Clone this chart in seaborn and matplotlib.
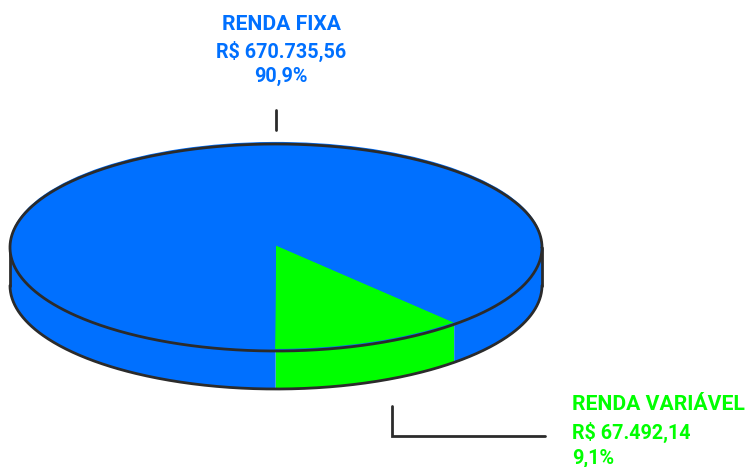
import numpy as np
import matplotlib
matplotlib.use("Agg")
import matplotlib.pyplot as plt
import seaborn as sns

categories = ["RENDA VARIÁVEL", "RENDA FIXA"]
amounts = ["R$ 67.492,14", "R$ 670.735,56"]
percents = ["9,1%", "90,9%"]
# Slice shares as drawn in the picture (the perspective widens the small slice)
drawn_shares = [11.7, 88.3]
palette = sns.color_palette(["#00FF00", "#0070FF"])
EDGE = "#2b2b2b"

W, H = 745, 467
CX, CY, RX, RY, DEPTH = 276, 247.5, 266, 103.5, 38

sns.set_theme(style="white")
plt.rcParams["font.family"] = ["Roboto", "DejaVu Sans"]

fig = plt.figure(figsize=(W / 100, H / 100), dpi=100)
ax = fig.add_axes([0, 0, 1, 1])


def fit_limits():
    ax.set_aspect("auto")
    ax.set_xlim(-CX / RX, (W - CX) / RX)
    ax.set_ylim(-(H - CY) / RY, CY / RY)
    ax.axis("off")


d = DEPTH / RY
start = -90.2
fractions = np.array(drawn_shares) / sum(drawn_shares)
edges = start + np.concatenate([[0], np.cumsum(fractions) * 360])

# Side wall of the disc: every slice, clipped to the front half
for i, color in enumerate(palette):
    a0, a1 = edges[i], edges[i + 1]
    for lo, hi in [(a0, min(a1, 0)), (max(a0, 180), a1)]:
        if hi > lo:
            t = np.radians(np.linspace(lo, hi, 200))
            ax.fill_between(np.cos(t), np.sin(t), np.sin(t) - d,
                            color=color, lw=0, zorder=1)

# Outline of the wall
t = np.radians(np.linspace(180, 360, 400))
ax.plot(np.cos(t), np.sin(t) - d, color=EDGE, lw=2, zorder=2)
ax.plot([-1, -1], [0, -d], color=EDGE, lw=2, zorder=2)
ax.plot([1, 1], [0, -d], color=EDGE, lw=2, zorder=2)

# Top face: blue underlay, then the slices with the apex slightly raised,
# clipped to the disc so nothing leaks past the outline
t = np.radians(np.linspace(0, 360, 720))
underlay = ax.fill(np.cos(t), np.sin(t), color=palette[1], lw=0, zorder=2.5)[0]
wedges, _ = ax.pie(drawn_shares, colors=palette, startangle=start,
                   counterclock=True, wedgeprops=dict(linewidth=0, zorder=3),
                   center=(0, 0.02), radius=1, normalize=True)
ax.plot(np.cos(t), np.sin(t), color=EDGE, lw=2, zorder=4)
fit_limits()
for wedge in wedges:
    wedge.set_clip_path(underlay)


def px(x, y):
    return x / W, 1 - y / H


# Leader lines
for xs, ys in [([276, 276], [110, 130]), ([392, 392, 545], [406, 436, 436])]:
    fig.add_artist(plt.Line2D([x / W for x in xs], [1 - y / H for y in ys],
                              color=EDGE, lw=2, solid_joinstyle="miter"))

sizes = [15.2, 14.2, 14.2]
for i, y in enumerate([25, 51, 76]):
    label = [categories[1], amounts[1], percents[1]][i]
    x, yy = px(281, y)
    fig.text(x, yy, label, color=palette[1], ha="center", va="center",
             fontsize=sizes[i], fontweight="bold")
for i, y in enumerate([405, 432, 458]):
    label = [categories[0], amounts[0], percents[0]][i]
    x, yy = px(572, y)
    fig.text(x, yy, label, color=palette[0], ha="left", va="center",
             fontsize=sizes[i], fontweight="bold")

fig.savefig("out.png", dpi=100)
